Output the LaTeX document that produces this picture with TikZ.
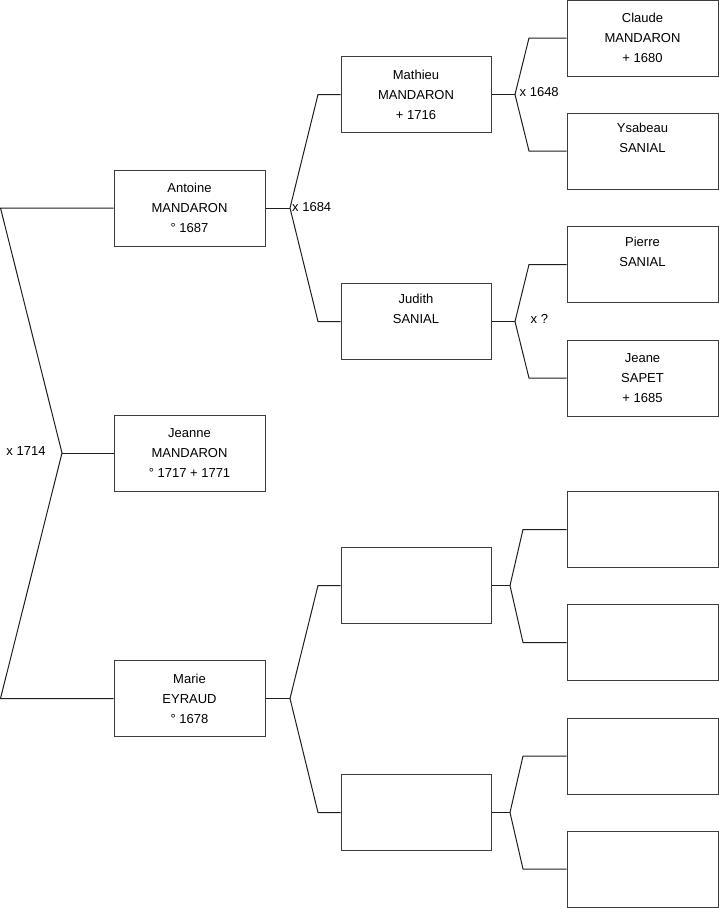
\documentclass[tikz,border=0pt]{standalone}
\usepackage{fontspec}
\setmainfont{Liberation Sans}
\definecolor{boxline}{RGB}{60,60,60}
\definecolor{conn}{RGB}{30,30,30}
\begin{document}
\begin{tikzpicture}[x=1pt,y=-1pt,
  person/.style={draw=boxline,line width=1pt,minimum width=151pt,minimum height=76pt,inner sep=0pt,align=center,font=\fontsize{13}{20}\selectfont},
  person2/.style={person,minimum width=150pt},
  link/.style={draw=conn,line width=1pt},
  lbl/.style={font=\fontsize{13}{16}\selectfont,inner sep=0pt}]
\useasboundingbox (0,0) rectangle (719,908);
% generation 1
\node[person] (A) at (189.5,208) {Antoine\\MANDARON\\° 1687};
\node[person] (J) at (189.5,453) {Jeanne\\MANDARON\\° 1717 + 1771};
\node[person] (M) at (189.5,698.5) {Marie\\EYRAUD\\° 1678};
% generation 2
\node[person2] (Ma) at (416,94.5) {Mathieu\\MANDARON\\+ 1716};
\node[person2] (Ju) at (416,321.5) {Judith\\SANIAL\\\strut};
\node[person2] (E1) at (416,585.5) {};
\node[person2] (E2) at (416,812.5) {};
% generation 3
\node[person] (C) at (642.5,38) {Claude\\MANDARON\\+ 1680};
\node[person] (Y) at (642.5,151) {Ysabeau\\SANIAL\\\strut};
\node[person] (P) at (642.5,264.5) {Pierre\\SANIAL\\\strut};
\node[person] (Je) at (642.5,378) {Jeane\\SAPET\\+ 1685};
\node[person] (G1) at (642.5,529.5) {};
\node[person] (G2) at (642.5,642.5) {};
\node[person] (G3) at (642.5,756) {};
\node[person] (G4) at (642.5,869) {};
% left bracket
\coordinate (tl) at (0.5,208);
\coordinate (jl) at (62,453);
\coordinate (bl) at (0.5,698.5);
\draw[link] (A.west) -- (tl) -- (jl) -- (bl) -- (M.west);
\draw[link] (jl) -- (J.west);
\node[lbl] (l1) at (26,451) {x 1714};
% Antoine
\coordinate (ja) at (290,208);
\coordinate (ja1) at (318,94.5);
\coordinate (ja2) at (318,321.5);
\draw[link] (A.east) -- (ja);
\draw[link] (Ma.west) -- (ja1) -- (ja) -- (ja2) -- (Ju.west);
\node[lbl,anchor=west] (l2) at (292,207) {x 1684};
% Marie
\coordinate (jm) at (290,698.5);
\coordinate (jm1) at (318,585.5);
\coordinate (jm2) at (318,812.5);
\draw[link] (M.east) -- (jm);
\draw[link] (E1.west) -- (jm1) -- (jm) -- (jm2) -- (E2.west);
% Mathieu
\coordinate (jb) at (515,94.5);
\coordinate (jb1) at (529,38);
\coordinate (jb2) at (529,151);
\draw[link] (Ma.east) -- (jb);
\draw[link] (C.west) -- (jb1) -- (jb) -- (jb2) -- (Y.west);
\node[lbl,anchor=west] (l3) at (519.5,92) {x 1648};
% Judith
\coordinate (jc) at (515,321.5);
\coordinate (jc1) at (529,264.5);
\coordinate (jc2) at (529,378);
\draw[link] (Ju.east) -- (jc);
\draw[link] (P.west) -- (jc1) -- (jc) -- (jc2) -- (Je.west);
\node[lbl,anchor=west] (l4) at (530.5,319) {x ?};
% E1
\coordinate (jd) at (510,585.5);
\coordinate (jd1) at (523,529.5);
\coordinate (jd2) at (523,642.5);
\draw[link] (E1.east) -- (jd);
\draw[link] (G1.west) -- (jd1) -- (jd) -- (jd2) -- (G2.west);
% E2
\coordinate (je) at (510,812.5);
\coordinate (je1) at (523,756);
\coordinate (je2) at (523,869);
\draw[link] (E2.east) -- (je);
\draw[link] (G3.west) -- (je1) -- (je) -- (je2) -- (G4.west);
\end{tikzpicture}
\end{document}
